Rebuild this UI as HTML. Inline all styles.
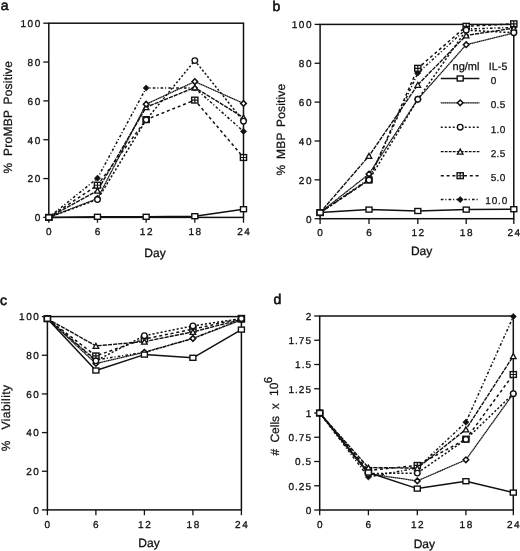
<!DOCTYPE html>
<html><head><meta charset="utf-8"><title>IL-5 figure</title>
<style>
html,body{margin:0;padding:0;background:#fff;}
body{width:520px;height:551px;overflow:hidden;}
svg{display:block;}
text{font-family:"Liberation Sans", sans-serif;text-rendering:geometricPrecision;fill:#111;stroke:#111;stroke-width:0.3px;}
svg{filter:grayscale(1);}
text.t{stroke-width:0.25px;}
text.L{stroke-width:0.6px;}
text.G{stroke-width:0.25px;}
</style></head><body>
<svg width="520" height="551" viewBox="0 0 520 551">
<rect width="520" height="551" fill="#fff"/>
<rect x="48.80" y="23.20" width="194.70" height="194.20" fill="none" stroke="#111" stroke-width="1.5"/>
<path d="M43.30 217.40H48.80" stroke="#111" stroke-width="1.3"/>
<text x="41.90" y="221.20" font-size="10" text-anchor="end" letter-spacing="1.6" font-weight="normal" >0</text>
<path d="M43.30 178.56H48.80" stroke="#111" stroke-width="1.3"/>
<text x="41.90" y="182.36" font-size="10" text-anchor="end" letter-spacing="1.6" font-weight="normal" >20</text>
<path d="M43.30 139.72H48.80" stroke="#111" stroke-width="1.3"/>
<text x="41.90" y="143.52" font-size="10" text-anchor="end" letter-spacing="1.6" font-weight="normal" >40</text>
<path d="M43.30 100.88H48.80" stroke="#111" stroke-width="1.3"/>
<text x="41.90" y="104.68" font-size="10" text-anchor="end" letter-spacing="1.6" font-weight="normal" >60</text>
<path d="M43.30 62.04H48.80" stroke="#111" stroke-width="1.3"/>
<text x="41.90" y="65.84" font-size="10" text-anchor="end" letter-spacing="1.6" font-weight="normal" >80</text>
<path d="M43.30 23.20H48.80" stroke="#111" stroke-width="1.3"/>
<text x="41.90" y="27.00" font-size="10" text-anchor="end" letter-spacing="1.6" font-weight="normal" >100</text>
<path d="M48.80 217.40V222.70" stroke="#111" stroke-width="1.3"/>
<text x="49.60" y="235.00" font-size="10" text-anchor="middle" letter-spacing="1.6" font-weight="normal" >0</text>
<path d="M97.47 217.40V222.70" stroke="#111" stroke-width="1.3"/>
<text x="98.27" y="235.00" font-size="10" text-anchor="middle" letter-spacing="1.6" font-weight="normal" >6</text>
<path d="M146.15 217.40V222.70" stroke="#111" stroke-width="1.3"/>
<text x="146.95" y="235.00" font-size="10" text-anchor="middle" letter-spacing="1.6" font-weight="normal" >12</text>
<path d="M194.82 217.40V222.70" stroke="#111" stroke-width="1.3"/>
<text x="195.62" y="235.00" font-size="10" text-anchor="middle" letter-spacing="1.6" font-weight="normal" >18</text>
<path d="M243.50 217.40V222.70" stroke="#111" stroke-width="1.3"/>
<text x="244.30" y="235.00" font-size="10" text-anchor="middle" letter-spacing="1.6" font-weight="normal" >24</text>
<polyline points="48.80,217.40 97.47,178.20 146.15,88.00 194.82,88.00 243.50,131.40" fill="none" stroke="#111" stroke-width="1.5" stroke-linejoin="round" stroke-dasharray="2.6 1.9 1.1 2.2"/>
<polyline points="48.80,217.40 97.47,185.20 146.15,119.60 194.82,100.10 243.50,157.50" fill="none" stroke="#111" stroke-width="1.5" stroke-linejoin="round" stroke-dasharray="3 2.8"/>
<polyline points="48.80,217.40 97.47,190.60 146.15,107.20 194.82,87.50 243.50,117.60" fill="none" stroke="#111" stroke-width="1.4" stroke-linejoin="round" stroke-dasharray="4.2 1"/>
<polyline points="48.80,217.40 97.47,198.60 146.15,104.20 194.82,81.60 243.50,103.40" fill="none" stroke="#111" stroke-width="1.25" stroke-linejoin="round" stroke-dasharray="1.6 0.3"/>
<polyline points="48.80,217.40 97.47,199.50 146.15,119.80 194.82,60.60 243.50,121.20" fill="none" stroke="#111" stroke-width="1.5" stroke-linejoin="round" stroke-dasharray="2.1 2.0"/>
<polyline points="48.80,217.40 97.47,216.80 146.15,216.80 194.82,216.20 243.50,209.20" fill="none" stroke="#111" stroke-width="1.5" stroke-linejoin="round"/>
<path d="M48.80 214.30L51.90 217.40L48.80 220.50L45.70 217.40Z" fill="#111" stroke="#111" stroke-width="0.6"/>
<path d="M97.47 175.10L100.57 178.20L97.47 181.30L94.38 178.20Z" fill="#111" stroke="#111" stroke-width="0.6"/>
<path d="M146.15 84.90L149.25 88.00L146.15 91.10L143.05 88.00Z" fill="#111" stroke="#111" stroke-width="0.6"/>
<path d="M194.82 84.90L197.92 88.00L194.82 91.10L191.72 88.00Z" fill="#111" stroke="#111" stroke-width="0.6"/>
<path d="M243.50 128.30L246.60 131.40L243.50 134.50L240.40 131.40Z" fill="#111" stroke="#111" stroke-width="0.6"/>
<rect x="45.70" y="214.50" width="6.2" height="5.8" fill="#fff" stroke="#111" stroke-width="1.4"/><path d="M45.70 217.40H51.90M48.80 214.50V220.30" stroke="#111" stroke-width="1.15"/>
<rect x="94.38" y="182.30" width="6.2" height="5.8" fill="#fff" stroke="#111" stroke-width="1.4"/><path d="M94.38 185.20H100.57M97.47 182.30V188.10" stroke="#111" stroke-width="1.15"/>
<rect x="143.05" y="116.70" width="6.2" height="5.8" fill="#fff" stroke="#111" stroke-width="1.4"/><path d="M143.05 119.60H149.25M146.15 116.70V122.50" stroke="#111" stroke-width="1.15"/>
<rect x="191.72" y="97.20" width="6.2" height="5.8" fill="#fff" stroke="#111" stroke-width="1.4"/><path d="M191.72 100.10H197.92M194.82 97.20V103.00" stroke="#111" stroke-width="1.15"/>
<rect x="240.40" y="154.60" width="6.2" height="5.8" fill="#fff" stroke="#111" stroke-width="1.4"/><path d="M240.40 157.50H246.60M243.50 154.60V160.40" stroke="#111" stroke-width="1.15"/>
<path d="M48.80 214.90L51.60 219.90L46.00 219.90Z" fill="#fff" stroke="#111" stroke-width="1.3" stroke-linejoin="miter"/>
<path d="M97.47 188.10L100.27 193.10L94.67 193.10Z" fill="#fff" stroke="#111" stroke-width="1.3" stroke-linejoin="miter"/>
<path d="M146.15 104.70L148.95 109.70L143.35 109.70Z" fill="#fff" stroke="#111" stroke-width="1.3" stroke-linejoin="miter"/>
<path d="M194.82 85.00L197.62 90.00L192.02 90.00Z" fill="#fff" stroke="#111" stroke-width="1.3" stroke-linejoin="miter"/>
<path d="M243.50 115.10L246.30 120.10L240.70 120.10Z" fill="#fff" stroke="#111" stroke-width="1.3" stroke-linejoin="miter"/>
<path d="M48.80 214.60L51.60 217.40L48.80 220.20L46.00 217.40Z" fill="#fff" stroke="#111" stroke-width="1.5"/>
<path d="M97.47 195.80L100.27 198.60L97.47 201.40L94.67 198.60Z" fill="#fff" stroke="#111" stroke-width="1.5"/>
<path d="M146.15 101.40L148.95 104.20L146.15 107.00L143.35 104.20Z" fill="#fff" stroke="#111" stroke-width="1.5"/>
<path d="M194.82 78.80L197.62 81.60L194.82 84.40L192.02 81.60Z" fill="#fff" stroke="#111" stroke-width="1.5"/>
<path d="M243.50 100.60L246.30 103.40L243.50 106.20L240.70 103.40Z" fill="#fff" stroke="#111" stroke-width="1.5"/>
<circle cx="48.80" cy="217.40" r="2.8" fill="#fff" stroke="#111" stroke-width="1.35"/>
<circle cx="97.47" cy="199.50" r="2.8" fill="#fff" stroke="#111" stroke-width="1.35"/>
<circle cx="146.15" cy="119.80" r="2.8" fill="#fff" stroke="#111" stroke-width="1.35"/>
<circle cx="194.82" cy="60.60" r="2.8" fill="#fff" stroke="#111" stroke-width="1.35"/>
<circle cx="243.50" cy="121.20" r="2.8" fill="#fff" stroke="#111" stroke-width="1.35"/>
<rect x="45.80" y="214.90" width="6.0" height="5.0" fill="#fff" stroke="#111" stroke-width="1.4"/>
<rect x="94.47" y="214.30" width="6.0" height="5.0" fill="#fff" stroke="#111" stroke-width="1.4"/>
<rect x="143.15" y="214.30" width="6.0" height="5.0" fill="#fff" stroke="#111" stroke-width="1.4"/>
<rect x="191.82" y="213.70" width="6.0" height="5.0" fill="#fff" stroke="#111" stroke-width="1.4"/>
<rect x="240.50" y="206.70" width="6.0" height="5.0" fill="#fff" stroke="#111" stroke-width="1.4"/>
<rect x="320.10" y="24.40" width="193.70" height="194.30" fill="none" stroke="#111" stroke-width="1.5"/>
<path d="M314.60 218.70H320.10" stroke="#111" stroke-width="1.3"/>
<text x="313.20" y="222.50" font-size="10" text-anchor="end" letter-spacing="1.6" font-weight="normal" >0</text>
<path d="M314.60 179.84H320.10" stroke="#111" stroke-width="1.3"/>
<text x="313.20" y="183.64" font-size="10" text-anchor="end" letter-spacing="1.6" font-weight="normal" >20</text>
<path d="M314.60 140.98H320.10" stroke="#111" stroke-width="1.3"/>
<text x="313.20" y="144.78" font-size="10" text-anchor="end" letter-spacing="1.6" font-weight="normal" >40</text>
<path d="M314.60 102.12H320.10" stroke="#111" stroke-width="1.3"/>
<text x="313.20" y="105.92" font-size="10" text-anchor="end" letter-spacing="1.6" font-weight="normal" >60</text>
<path d="M314.60 63.26H320.10" stroke="#111" stroke-width="1.3"/>
<text x="313.20" y="67.06" font-size="10" text-anchor="end" letter-spacing="1.6" font-weight="normal" >80</text>
<path d="M314.60 24.40H320.10" stroke="#111" stroke-width="1.3"/>
<text x="313.20" y="28.20" font-size="10" text-anchor="end" letter-spacing="1.6" font-weight="normal" >100</text>
<path d="M320.10 218.70V224.00" stroke="#111" stroke-width="1.3"/>
<text x="320.90" y="236.30" font-size="10" text-anchor="middle" letter-spacing="1.6" font-weight="normal" >0</text>
<path d="M369.00 218.70V224.00" stroke="#111" stroke-width="1.3"/>
<text x="369.80" y="236.30" font-size="10" text-anchor="middle" letter-spacing="1.6" font-weight="normal" >6</text>
<path d="M417.80 218.70V224.00" stroke="#111" stroke-width="1.3"/>
<text x="418.60" y="236.30" font-size="10" text-anchor="middle" letter-spacing="1.6" font-weight="normal" >12</text>
<path d="M466.20 218.70V224.00" stroke="#111" stroke-width="1.3"/>
<text x="467.00" y="236.30" font-size="10" text-anchor="middle" letter-spacing="1.6" font-weight="normal" >18</text>
<path d="M513.80 218.70V224.00" stroke="#111" stroke-width="1.3"/>
<text x="514.60" y="236.30" font-size="10" text-anchor="middle" letter-spacing="1.6" font-weight="normal" >24</text>
<polyline points="320.10,212.60 369.00,179.00 417.80,73.00 466.20,29.00 513.80,27.50" fill="none" stroke="#111" stroke-width="1.5" stroke-linejoin="round" stroke-dasharray="2.6 1.9 1.1 2.2"/>
<polyline points="320.10,212.60 369.00,180.00 417.80,68.30 466.20,26.30 513.80,23.80" fill="none" stroke="#111" stroke-width="1.5" stroke-linejoin="round" stroke-dasharray="3 2.8"/>
<polyline points="320.10,212.60 369.00,155.90 417.80,84.80 466.20,35.40 513.80,28.20" fill="none" stroke="#111" stroke-width="1.4" stroke-linejoin="round" stroke-dasharray="4.2 1"/>
<polyline points="320.10,212.60 369.00,174.00 417.80,99.30 466.20,44.70 513.80,33.00" fill="none" stroke="#111" stroke-width="1.25" stroke-linejoin="round" stroke-dasharray="1.6 0.3"/>
<polyline points="320.10,212.60 369.00,180.00 417.80,99.30 466.20,30.20 513.80,32.70" fill="none" stroke="#111" stroke-width="1.5" stroke-linejoin="round" stroke-dasharray="2.1 2.0"/>
<polyline points="320.10,212.60 369.00,209.60 417.80,211.00 466.20,209.60 513.80,209.20" fill="none" stroke="#111" stroke-width="1.5" stroke-linejoin="round"/>
<path d="M320.10 209.50L323.20 212.60L320.10 215.70L317.00 212.60Z" fill="#111" stroke="#111" stroke-width="0.6"/>
<path d="M369.00 175.90L372.10 179.00L369.00 182.10L365.90 179.00Z" fill="#111" stroke="#111" stroke-width="0.6"/>
<path d="M417.80 69.90L420.90 73.00L417.80 76.10L414.70 73.00Z" fill="#111" stroke="#111" stroke-width="0.6"/>
<path d="M466.20 25.90L469.30 29.00L466.20 32.10L463.10 29.00Z" fill="#111" stroke="#111" stroke-width="0.6"/>
<path d="M513.80 24.40L516.90 27.50L513.80 30.60L510.70 27.50Z" fill="#111" stroke="#111" stroke-width="0.6"/>
<rect x="317.00" y="209.70" width="6.2" height="5.8" fill="#fff" stroke="#111" stroke-width="1.4"/><path d="M317.00 212.60H323.20M320.10 209.70V215.50" stroke="#111" stroke-width="1.15"/>
<rect x="365.90" y="177.10" width="6.2" height="5.8" fill="#fff" stroke="#111" stroke-width="1.4"/><path d="M365.90 180.00H372.10M369.00 177.10V182.90" stroke="#111" stroke-width="1.15"/>
<rect x="414.70" y="65.40" width="6.2" height="5.8" fill="#fff" stroke="#111" stroke-width="1.4"/><path d="M414.70 68.30H420.90M417.80 65.40V71.20" stroke="#111" stroke-width="1.15"/>
<rect x="463.10" y="23.40" width="6.2" height="5.8" fill="#fff" stroke="#111" stroke-width="1.4"/><path d="M463.10 26.30H469.30M466.20 23.40V29.20" stroke="#111" stroke-width="1.15"/>
<rect x="510.70" y="20.90" width="6.2" height="5.8" fill="#fff" stroke="#111" stroke-width="1.4"/><path d="M510.70 23.80H516.90M513.80 20.90V26.70" stroke="#111" stroke-width="1.15"/>
<path d="M320.10 210.10L322.90 215.10L317.30 215.10Z" fill="#fff" stroke="#111" stroke-width="1.3" stroke-linejoin="miter"/>
<path d="M369.00 153.40L371.80 158.40L366.20 158.40Z" fill="#fff" stroke="#111" stroke-width="1.3" stroke-linejoin="miter"/>
<path d="M417.80 82.30L420.60 87.30L415.00 87.30Z" fill="#fff" stroke="#111" stroke-width="1.3" stroke-linejoin="miter"/>
<path d="M466.20 32.90L469.00 37.90L463.40 37.90Z" fill="#fff" stroke="#111" stroke-width="1.3" stroke-linejoin="miter"/>
<path d="M513.80 25.70L516.60 30.70L511.00 30.70Z" fill="#fff" stroke="#111" stroke-width="1.3" stroke-linejoin="miter"/>
<path d="M320.10 209.80L322.90 212.60L320.10 215.40L317.30 212.60Z" fill="#fff" stroke="#111" stroke-width="1.5"/>
<path d="M369.00 171.20L371.80 174.00L369.00 176.80L366.20 174.00Z" fill="#fff" stroke="#111" stroke-width="1.5"/>
<path d="M417.80 96.50L420.60 99.30L417.80 102.10L415.00 99.30Z" fill="#fff" stroke="#111" stroke-width="1.5"/>
<path d="M466.20 41.90L469.00 44.70L466.20 47.50L463.40 44.70Z" fill="#fff" stroke="#111" stroke-width="1.5"/>
<path d="M513.80 30.20L516.60 33.00L513.80 35.80L511.00 33.00Z" fill="#fff" stroke="#111" stroke-width="1.5"/>
<circle cx="320.10" cy="212.60" r="2.8" fill="#fff" stroke="#111" stroke-width="1.35"/>
<circle cx="369.00" cy="180.00" r="2.8" fill="#fff" stroke="#111" stroke-width="1.35"/>
<circle cx="417.80" cy="99.30" r="2.8" fill="#fff" stroke="#111" stroke-width="1.35"/>
<circle cx="466.20" cy="30.20" r="2.8" fill="#fff" stroke="#111" stroke-width="1.35"/>
<circle cx="513.80" cy="32.70" r="2.8" fill="#fff" stroke="#111" stroke-width="1.35"/>
<rect x="317.10" y="210.10" width="6.0" height="5.0" fill="#fff" stroke="#111" stroke-width="1.4"/>
<rect x="366.00" y="207.10" width="6.0" height="5.0" fill="#fff" stroke="#111" stroke-width="1.4"/>
<rect x="414.80" y="208.50" width="6.0" height="5.0" fill="#fff" stroke="#111" stroke-width="1.4"/>
<rect x="463.20" y="207.10" width="6.0" height="5.0" fill="#fff" stroke="#111" stroke-width="1.4"/>
<rect x="510.80" y="206.70" width="6.0" height="5.0" fill="#fff" stroke="#111" stroke-width="1.4"/>
<rect x="47.40" y="316.60" width="194.00" height="193.30" fill="none" stroke="#111" stroke-width="1.5"/>
<path d="M41.90 509.90H47.40" stroke="#111" stroke-width="1.3"/>
<text x="40.50" y="513.70" font-size="10" text-anchor="end" letter-spacing="1.6" font-weight="normal" >0</text>
<path d="M41.90 471.24H47.40" stroke="#111" stroke-width="1.3"/>
<text x="40.50" y="475.04" font-size="10" text-anchor="end" letter-spacing="1.6" font-weight="normal" >20</text>
<path d="M41.90 432.58H47.40" stroke="#111" stroke-width="1.3"/>
<text x="40.50" y="436.38" font-size="10" text-anchor="end" letter-spacing="1.6" font-weight="normal" >40</text>
<path d="M41.90 393.92H47.40" stroke="#111" stroke-width="1.3"/>
<text x="40.50" y="397.72" font-size="10" text-anchor="end" letter-spacing="1.6" font-weight="normal" >60</text>
<path d="M41.90 355.26H47.40" stroke="#111" stroke-width="1.3"/>
<text x="40.50" y="359.06" font-size="10" text-anchor="end" letter-spacing="1.6" font-weight="normal" >80</text>
<path d="M41.90 316.60H47.40" stroke="#111" stroke-width="1.3"/>
<text x="40.50" y="320.40" font-size="10" text-anchor="end" letter-spacing="1.6" font-weight="normal" >100</text>
<path d="M47.40 509.90V515.20" stroke="#111" stroke-width="1.3"/>
<text x="48.20" y="527.50" font-size="10" text-anchor="middle" letter-spacing="1.6" font-weight="normal" >0</text>
<path d="M95.90 509.90V515.20" stroke="#111" stroke-width="1.3"/>
<text x="96.70" y="527.50" font-size="10" text-anchor="middle" letter-spacing="1.6" font-weight="normal" >6</text>
<path d="M144.40 509.90V515.20" stroke="#111" stroke-width="1.3"/>
<text x="145.20" y="527.50" font-size="10" text-anchor="middle" letter-spacing="1.6" font-weight="normal" >12</text>
<path d="M192.90 509.90V515.20" stroke="#111" stroke-width="1.3"/>
<text x="193.70" y="527.50" font-size="10" text-anchor="middle" letter-spacing="1.6" font-weight="normal" >18</text>
<path d="M241.40 509.90V515.20" stroke="#111" stroke-width="1.3"/>
<text x="242.20" y="527.50" font-size="10" text-anchor="middle" letter-spacing="1.6" font-weight="normal" >24</text>
<polyline points="47.40,318.70 95.90,360.00 144.40,352.30 192.90,338.60 241.40,319.20" fill="none" stroke="#111" stroke-width="1.5" stroke-linejoin="round" stroke-dasharray="2.6 1.9 1.1 2.2"/>
<polyline points="47.40,318.70 95.90,355.90 144.40,339.00 192.90,329.20 241.40,318.40" fill="none" stroke="#111" stroke-width="1.5" stroke-linejoin="round" stroke-dasharray="3 2.8"/>
<polyline points="47.40,318.70 95.90,345.90 144.40,341.60 192.90,331.90 241.40,319.50" fill="none" stroke="#111" stroke-width="1.4" stroke-linejoin="round" stroke-dasharray="4.2 1"/>
<polyline points="47.40,318.70 95.90,363.50 144.40,352.30 192.90,338.40 241.40,320.00" fill="none" stroke="#111" stroke-width="1.25" stroke-linejoin="round" stroke-dasharray="1.6 0.3"/>
<polyline points="47.40,318.70 95.90,360.80 144.40,335.70 192.90,325.90 241.40,318.60" fill="none" stroke="#111" stroke-width="1.5" stroke-linejoin="round" stroke-dasharray="2.1 2.0"/>
<polyline points="47.40,318.70 95.90,370.50 144.40,354.60 192.90,357.80 241.40,329.60" fill="none" stroke="#111" stroke-width="1.5" stroke-linejoin="round"/>
<path d="M47.40 315.60L50.50 318.70L47.40 321.80L44.30 318.70Z" fill="#111" stroke="#111" stroke-width="0.6"/>
<path d="M95.90 356.90L99.00 360.00L95.90 363.10L92.80 360.00Z" fill="#111" stroke="#111" stroke-width="0.6"/>
<path d="M144.40 349.20L147.50 352.30L144.40 355.40L141.30 352.30Z" fill="#111" stroke="#111" stroke-width="0.6"/>
<path d="M192.90 335.50L196.00 338.60L192.90 341.70L189.80 338.60Z" fill="#111" stroke="#111" stroke-width="0.6"/>
<path d="M241.40 316.10L244.50 319.20L241.40 322.30L238.30 319.20Z" fill="#111" stroke="#111" stroke-width="0.6"/>
<rect x="44.30" y="315.80" width="6.2" height="5.8" fill="#fff" stroke="#111" stroke-width="1.4"/><path d="M44.30 318.70H50.50M47.40 315.80V321.60" stroke="#111" stroke-width="1.15"/>
<rect x="92.80" y="353.00" width="6.2" height="5.8" fill="#fff" stroke="#111" stroke-width="1.4"/><path d="M92.80 355.90H99.00M95.90 353.00V358.80" stroke="#111" stroke-width="1.15"/>
<rect x="141.30" y="336.10" width="6.2" height="5.8" fill="#fff" stroke="#111" stroke-width="1.4"/><path d="M141.30 339.00H147.50M144.40 336.10V341.90" stroke="#111" stroke-width="1.15"/>
<rect x="189.80" y="326.30" width="6.2" height="5.8" fill="#fff" stroke="#111" stroke-width="1.4"/><path d="M189.80 329.20H196.00M192.90 326.30V332.10" stroke="#111" stroke-width="1.15"/>
<rect x="238.30" y="315.50" width="6.2" height="5.8" fill="#fff" stroke="#111" stroke-width="1.4"/><path d="M238.30 318.40H244.50M241.40 315.50V321.30" stroke="#111" stroke-width="1.15"/>
<path d="M47.40 316.20L50.20 321.20L44.60 321.20Z" fill="#fff" stroke="#111" stroke-width="1.3" stroke-linejoin="miter"/>
<path d="M95.90 343.40L98.70 348.40L93.10 348.40Z" fill="#fff" stroke="#111" stroke-width="1.3" stroke-linejoin="miter"/>
<path d="M144.40 339.10L147.20 344.10L141.60 344.10Z" fill="#fff" stroke="#111" stroke-width="1.3" stroke-linejoin="miter"/>
<path d="M192.90 329.40L195.70 334.40L190.10 334.40Z" fill="#fff" stroke="#111" stroke-width="1.3" stroke-linejoin="miter"/>
<path d="M241.40 317.00L244.20 322.00L238.60 322.00Z" fill="#fff" stroke="#111" stroke-width="1.3" stroke-linejoin="miter"/>
<path d="M47.40 315.90L50.20 318.70L47.40 321.50L44.60 318.70Z" fill="#fff" stroke="#111" stroke-width="1.5"/>
<path d="M95.90 360.70L98.70 363.50L95.90 366.30L93.10 363.50Z" fill="#fff" stroke="#111" stroke-width="1.5"/>
<path d="M144.40 349.50L147.20 352.30L144.40 355.10L141.60 352.30Z" fill="#fff" stroke="#111" stroke-width="1.5"/>
<path d="M192.90 335.60L195.70 338.40L192.90 341.20L190.10 338.40Z" fill="#fff" stroke="#111" stroke-width="1.5"/>
<path d="M241.40 317.20L244.20 320.00L241.40 322.80L238.60 320.00Z" fill="#fff" stroke="#111" stroke-width="1.5"/>
<circle cx="47.40" cy="318.70" r="2.8" fill="#fff" stroke="#111" stroke-width="1.35"/>
<circle cx="95.90" cy="360.80" r="2.8" fill="#fff" stroke="#111" stroke-width="1.35"/>
<circle cx="144.40" cy="335.70" r="2.8" fill="#fff" stroke="#111" stroke-width="1.35"/>
<circle cx="192.90" cy="325.90" r="2.8" fill="#fff" stroke="#111" stroke-width="1.35"/>
<circle cx="241.40" cy="318.60" r="2.8" fill="#fff" stroke="#111" stroke-width="1.35"/>
<rect x="44.40" y="316.20" width="6.0" height="5.0" fill="#fff" stroke="#111" stroke-width="1.4"/>
<rect x="92.90" y="368.00" width="6.0" height="5.0" fill="#fff" stroke="#111" stroke-width="1.4"/>
<rect x="141.40" y="352.10" width="6.0" height="5.0" fill="#fff" stroke="#111" stroke-width="1.4"/>
<rect x="189.90" y="355.30" width="6.0" height="5.0" fill="#fff" stroke="#111" stroke-width="1.4"/>
<rect x="238.40" y="327.10" width="6.0" height="5.0" fill="#fff" stroke="#111" stroke-width="1.4"/>
<rect x="319.70" y="316.00" width="193.60" height="194.00" fill="none" stroke="#111" stroke-width="1.5"/>
<path d="M314.20 510.00H319.70" stroke="#111" stroke-width="1.3"/>
<text x="312.80" y="513.80" font-size="10" text-anchor="end" letter-spacing="1.6" font-weight="normal" >0</text>
<path d="M314.20 485.75H319.70" stroke="#111" stroke-width="1.3"/>
<text x="312.00" y="489.55" font-size="10" text-anchor="end" letter-spacing="1.0" font-weight="normal" >0.25</text>
<path d="M314.20 461.50H319.70" stroke="#111" stroke-width="1.3"/>
<text x="312.00" y="465.30" font-size="10" text-anchor="end" letter-spacing="1.0" font-weight="normal" >0.5</text>
<path d="M314.20 437.25H319.70" stroke="#111" stroke-width="1.3"/>
<text x="312.00" y="441.05" font-size="10" text-anchor="end" letter-spacing="1.0" font-weight="normal" >0.75</text>
<path d="M314.20 413.00H319.70" stroke="#111" stroke-width="1.3"/>
<text x="312.80" y="416.80" font-size="10" text-anchor="end" letter-spacing="1.6" font-weight="normal" >1</text>
<path d="M314.20 388.75H319.70" stroke="#111" stroke-width="1.3"/>
<text x="312.00" y="392.55" font-size="10" text-anchor="end" letter-spacing="1.0" font-weight="normal" >1.25</text>
<path d="M314.20 364.50H319.70" stroke="#111" stroke-width="1.3"/>
<text x="312.00" y="368.30" font-size="10" text-anchor="end" letter-spacing="1.0" font-weight="normal" >1.5</text>
<path d="M314.20 340.25H319.70" stroke="#111" stroke-width="1.3"/>
<text x="312.00" y="344.05" font-size="10" text-anchor="end" letter-spacing="1.0" font-weight="normal" >1.75</text>
<path d="M314.20 316.00H319.70" stroke="#111" stroke-width="1.3"/>
<text x="312.80" y="319.80" font-size="10" text-anchor="end" letter-spacing="1.6" font-weight="normal" >2</text>
<path d="M319.70 510.00V515.30" stroke="#111" stroke-width="1.3"/>
<text x="320.50" y="527.60" font-size="10" text-anchor="middle" letter-spacing="1.6" font-weight="normal" >0</text>
<path d="M368.40 510.00V515.30" stroke="#111" stroke-width="1.3"/>
<text x="369.20" y="527.60" font-size="10" text-anchor="middle" letter-spacing="1.6" font-weight="normal" >6</text>
<path d="M417.30 510.00V515.30" stroke="#111" stroke-width="1.3"/>
<text x="418.10" y="527.60" font-size="10" text-anchor="middle" letter-spacing="1.6" font-weight="normal" >12</text>
<path d="M465.90 510.00V515.30" stroke="#111" stroke-width="1.3"/>
<text x="466.70" y="527.60" font-size="10" text-anchor="middle" letter-spacing="1.6" font-weight="normal" >18</text>
<path d="M513.30 510.00V515.30" stroke="#111" stroke-width="1.3"/>
<text x="514.10" y="527.60" font-size="10" text-anchor="middle" letter-spacing="1.6" font-weight="normal" >24</text>
<polyline points="319.70,413.00 368.40,477.00 417.30,468.00 465.90,422.20 513.30,316.50" fill="none" stroke="#111" stroke-width="1.5" stroke-linejoin="round" stroke-dasharray="2.6 1.9 1.1 2.2"/>
<polyline points="319.70,413.00 368.40,470.50 417.30,465.40 465.90,439.20 513.30,374.50" fill="none" stroke="#111" stroke-width="1.5" stroke-linejoin="round" stroke-dasharray="3 2.8"/>
<polyline points="319.70,413.00 368.40,467.60 417.30,468.10 465.90,429.40 513.30,356.10" fill="none" stroke="#111" stroke-width="1.4" stroke-linejoin="round" stroke-dasharray="4.2 1"/>
<polyline points="319.70,413.00 368.40,473.80 417.30,480.90 465.90,459.80 513.30,393.70" fill="none" stroke="#111" stroke-width="1.25" stroke-linejoin="round" stroke-dasharray="1.6 0.3"/>
<polyline points="319.70,413.00 368.40,473.50 417.30,473.10 465.90,439.40 513.30,393.70" fill="none" stroke="#111" stroke-width="1.5" stroke-linejoin="round" stroke-dasharray="2.1 2.0"/>
<polyline points="319.70,413.00 368.40,472.50 417.30,488.60 465.90,481.20 513.30,492.60" fill="none" stroke="#111" stroke-width="1.5" stroke-linejoin="round"/>
<path d="M319.70 409.90L322.80 413.00L319.70 416.10L316.60 413.00Z" fill="#111" stroke="#111" stroke-width="0.6"/>
<path d="M368.40 473.90L371.50 477.00L368.40 480.10L365.30 477.00Z" fill="#111" stroke="#111" stroke-width="0.6"/>
<path d="M417.30 464.90L420.40 468.00L417.30 471.10L414.20 468.00Z" fill="#111" stroke="#111" stroke-width="0.6"/>
<path d="M465.90 419.10L469.00 422.20L465.90 425.30L462.80 422.20Z" fill="#111" stroke="#111" stroke-width="0.6"/>
<path d="M513.30 313.40L516.40 316.50L513.30 319.60L510.20 316.50Z" fill="#111" stroke="#111" stroke-width="0.6"/>
<rect x="316.60" y="410.10" width="6.2" height="5.8" fill="#fff" stroke="#111" stroke-width="1.4"/><path d="M316.60 413.00H322.80M319.70 410.10V415.90" stroke="#111" stroke-width="1.15"/>
<rect x="365.30" y="467.60" width="6.2" height="5.8" fill="#fff" stroke="#111" stroke-width="1.4"/><path d="M365.30 470.50H371.50M368.40 467.60V473.40" stroke="#111" stroke-width="1.15"/>
<rect x="414.20" y="462.50" width="6.2" height="5.8" fill="#fff" stroke="#111" stroke-width="1.4"/><path d="M414.20 465.40H420.40M417.30 462.50V468.30" stroke="#111" stroke-width="1.15"/>
<rect x="462.80" y="436.30" width="6.2" height="5.8" fill="#fff" stroke="#111" stroke-width="1.4"/><path d="M462.80 439.20H469.00M465.90 436.30V442.10" stroke="#111" stroke-width="1.15"/>
<rect x="510.20" y="371.60" width="6.2" height="5.8" fill="#fff" stroke="#111" stroke-width="1.4"/><path d="M510.20 374.50H516.40M513.30 371.60V377.40" stroke="#111" stroke-width="1.15"/>
<path d="M319.70 410.50L322.50 415.50L316.90 415.50Z" fill="#fff" stroke="#111" stroke-width="1.3" stroke-linejoin="miter"/>
<path d="M368.40 465.10L371.20 470.10L365.60 470.10Z" fill="#fff" stroke="#111" stroke-width="1.3" stroke-linejoin="miter"/>
<path d="M417.30 465.60L420.10 470.60L414.50 470.60Z" fill="#fff" stroke="#111" stroke-width="1.3" stroke-linejoin="miter"/>
<path d="M465.90 426.90L468.70 431.90L463.10 431.90Z" fill="#fff" stroke="#111" stroke-width="1.3" stroke-linejoin="miter"/>
<path d="M513.30 353.60L516.10 358.60L510.50 358.60Z" fill="#fff" stroke="#111" stroke-width="1.3" stroke-linejoin="miter"/>
<path d="M319.70 410.20L322.50 413.00L319.70 415.80L316.90 413.00Z" fill="#fff" stroke="#111" stroke-width="1.5"/>
<path d="M368.40 471.00L371.20 473.80L368.40 476.60L365.60 473.80Z" fill="#fff" stroke="#111" stroke-width="1.5"/>
<path d="M417.30 478.10L420.10 480.90L417.30 483.70L414.50 480.90Z" fill="#fff" stroke="#111" stroke-width="1.5"/>
<path d="M465.90 457.00L468.70 459.80L465.90 462.60L463.10 459.80Z" fill="#fff" stroke="#111" stroke-width="1.5"/>
<path d="M513.30 390.90L516.10 393.70L513.30 396.50L510.50 393.70Z" fill="#fff" stroke="#111" stroke-width="1.5"/>
<circle cx="319.70" cy="413.00" r="2.8" fill="#fff" stroke="#111" stroke-width="1.35"/>
<circle cx="368.40" cy="473.50" r="2.8" fill="#fff" stroke="#111" stroke-width="1.35"/>
<circle cx="417.30" cy="473.10" r="2.8" fill="#fff" stroke="#111" stroke-width="1.35"/>
<circle cx="465.90" cy="439.40" r="2.8" fill="#fff" stroke="#111" stroke-width="1.35"/>
<circle cx="513.30" cy="393.70" r="2.8" fill="#fff" stroke="#111" stroke-width="1.35"/>
<rect x="316.70" y="410.50" width="6.0" height="5.0" fill="#fff" stroke="#111" stroke-width="1.4"/>
<rect x="365.40" y="470.00" width="6.0" height="5.0" fill="#fff" stroke="#111" stroke-width="1.4"/>
<rect x="414.30" y="486.10" width="6.0" height="5.0" fill="#fff" stroke="#111" stroke-width="1.4"/>
<rect x="462.90" y="478.70" width="6.0" height="5.0" fill="#fff" stroke="#111" stroke-width="1.4"/>
<rect x="510.30" y="490.10" width="6.0" height="5.0" fill="#fff" stroke="#111" stroke-width="1.4"/>
<text x="0.70" y="9.50" font-size="14" text-anchor="start" letter-spacing="0" font-weight="normal" class="L">a</text>
<text x="272.60" y="10.60" font-size="14" text-anchor="start" letter-spacing="0" font-weight="normal" class="L">b</text>
<text x="0.10" y="305.20" font-size="14" text-anchor="start" letter-spacing="0" font-weight="normal" class="L">c</text>
<text x="273.60" y="304.40" font-size="14" text-anchor="start" letter-spacing="0" font-weight="normal" class="L">d</text>
<text x="155.00" y="256.60" font-size="12" text-anchor="middle" letter-spacing="0" font-weight="normal" >Day</text>
<text x="421.60" y="254.80" font-size="12" text-anchor="middle" letter-spacing="0" font-weight="normal" >Day</text>
<text x="149.00" y="547.30" font-size="12" text-anchor="middle" letter-spacing="0" font-weight="normal" >Day</text>
<text x="424.30" y="547.90" font-size="12" text-anchor="middle" letter-spacing="0" font-weight="normal" >Day</text>
<text class="t" transform="translate(11.70,173.60) rotate(-90)" font-size="12" letter-spacing="0">%</text>
<text class="t" transform="translate(11.70,156.10) rotate(-90)" font-size="12" letter-spacing="0.28">ProMBP</text>
<text class="t" transform="translate(11.70,104.50) rotate(-90)" font-size="12" letter-spacing="0.2">Positive</text>
<text class="t" transform="translate(284.60,175.50) rotate(-90)" font-size="12" letter-spacing="0">%</text>
<text class="t" transform="translate(284.60,159.00) rotate(-90)" font-size="12" letter-spacing="0.3">MBP</text>
<text class="t" transform="translate(284.60,127.00) rotate(-90)" font-size="12" letter-spacing="0.15">Positive</text>
<text class="t" transform="translate(10.40,451.30) rotate(-90)" font-size="12" letter-spacing="0">%</text>
<text class="t" transform="translate(10.40,429.40) rotate(-90)" font-size="12" letter-spacing="0.4">Viability</text>
<text class="t" transform="translate(278.60,455.60) rotate(-90)" font-size="12" letter-spacing="0">#</text>
<text class="t" transform="translate(278.60,442.60) rotate(-90)" font-size="12" letter-spacing="0">Cells</text>
<text class="t" transform="translate(278.60,409.20) rotate(-90)" font-size="12" letter-spacing="0">x</text>
<text class="t" transform="translate(278.20,396.00) rotate(-90)" font-size="12" letter-spacing="0">10</text>
<text class="t" transform="translate(271.80,383.20) rotate(-90)" font-size="11.5" letter-spacing="0">6</text>
<text x="466.00" y="69.80" font-size="11" text-anchor="middle" letter-spacing="0" font-weight="normal" class="G">ng/ml</text>
<text x="498.10" y="69.80" font-size="10.5" text-anchor="middle" letter-spacing="0.2" font-weight="normal" class="G">IL-5</text>
<path d="M440.8 78.5H479.4" stroke="#111" stroke-width="1.5"/>
<rect x="457.20" y="76.00" width="6.0" height="5.0" fill="#fff" stroke="#111" stroke-width="1.4"/>
<text x="490.80" y="84.05" font-size="10" text-anchor="start" letter-spacing="0.25" font-weight="normal" class="G">0</text>
<path d="M440.8 102.8H479.4" stroke="#111" stroke-width="1.25" stroke-dasharray="1.6 0.3"/>
<path d="M460.20 100.00L463.00 102.80L460.20 105.60L457.40 102.80Z" fill="#fff" stroke="#111" stroke-width="1.5"/>
<text x="490.80" y="108.15" font-size="10" text-anchor="start" letter-spacing="0.25" font-weight="normal" class="G">0.5</text>
<path d="M440.8 127.2H479.4" stroke="#111" stroke-width="1.5" stroke-dasharray="1.9 2.1"/>
<circle cx="460.20" cy="127.20" r="2.8" fill="#fff" stroke="#111" stroke-width="1.35"/>
<text x="490.80" y="132.55" font-size="10" text-anchor="start" letter-spacing="0.25" font-weight="normal" class="G">1.0</text>
<path d="M440.8 151.6H479.4" stroke="#111" stroke-width="1.4" stroke-dasharray="2.8 1.2"/>
<path d="M460.20 149.10L463.00 154.10L457.40 154.10Z" fill="#fff" stroke="#111" stroke-width="1.3" stroke-linejoin="miter"/>
<text x="490.80" y="156.80" font-size="10" text-anchor="start" letter-spacing="0.25" font-weight="normal" class="G">2.5</text>
<path d="M440.8 175.7H479.4" stroke="#111" stroke-width="1.5" stroke-dasharray="3 2.8"/>
<rect x="457.10" y="172.80" width="6.2" height="5.8" fill="#fff" stroke="#111" stroke-width="1.4"/><path d="M457.10 175.70H463.30M460.20 172.80V178.60" stroke="#111" stroke-width="1.15"/>
<text x="490.80" y="180.80" font-size="10" text-anchor="start" letter-spacing="0.25" font-weight="normal" class="G">5.0</text>
<path d="M440.8 199.6H479.4" stroke="#111" stroke-width="1.5" stroke-dasharray="2.6 1.9 1.1 2.2"/>
<path d="M460.20 196.50L463.30 199.60L460.20 202.70L457.10 199.60Z" fill="#111" stroke="#111" stroke-width="0.6"/>
<text x="485.20" y="204.05" font-size="10" text-anchor="start" letter-spacing="0.9" font-weight="normal" class="G">10.0</text>
</svg>
</body></html>
